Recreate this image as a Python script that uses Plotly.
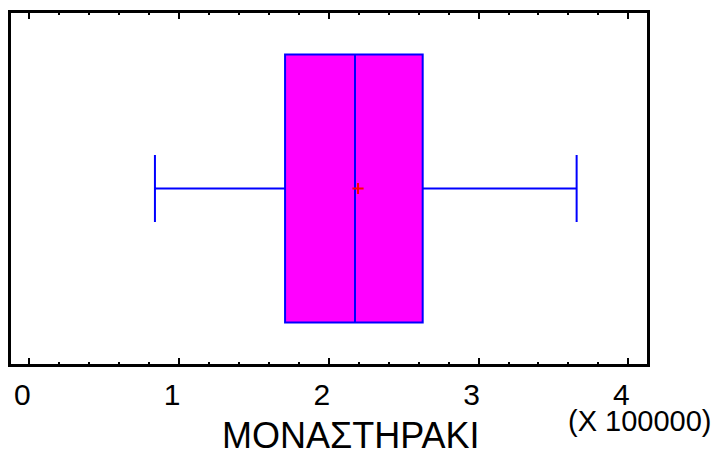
import plotly.graph_objects as go

# Box-and-whisker summary (units of 100000)
category = ["ΜΟΝΑΣΤΗΡΑΚΙ"]
lower_whisker = [0.839]
q1_values = [1.708]
median_values = [2.175]
q3_values = [2.627]
upper_whisker = [3.655]
mean_values = [2.195]
tick_values = [0, 1, 2, 3, 4]
tick_labels = ["0", "1", "2", "3", "4"]

FONT = "Liberation Sans, Arial, sans-serif"

fig = go.Figure()
fig.add_trace(go.Box(
    y=[0], orientation="h",
    q1=q1_values, median=median_values, q3=q3_values,
    lowerfence=lower_whisker, upperfence=upper_whisker,
    fillcolor="#FF00FF",
    line=dict(color="#0000FF", width=2),
    width=0.763, whiskerwidth=0.25,
    boxpoints=False, showlegend=False, name=category[0],
    hoverinfo="skip",
))
fig.add_trace(go.Scatter(
    x=mean_values, y=[0], mode="markers",
    marker=dict(symbol="cross-thin", size=8, line=dict(color="#FF0000", width=2)),
    showlegend=False, hoverinfo="skip",
))

fig.update_layout(
    width=721, height=455,
    margin=dict(l=11, r=74, t=13, b=91),
    paper_bgcolor="white", plot_bgcolor="white",
    font=dict(family=FONT, color="black"),
    xaxis=dict(
        range=[-0.1222, 4.1249],
        tickvals=tick_values, ticktext=tick_labels,
        ticks="inside", ticklen=6, tickwidth=2, tickcolor="black",
        minor=dict(dtick=0.2, ticks="inside", ticklen=2, tickwidth=2, tickcolor="black"),
        showline=True, linecolor="black", linewidth=2.5, mirror="ticks",
        showgrid=False, zeroline=False,
        tickfont=dict(size=30, family=FONT, color="black"),
        ticklabelshift=-7, ticklabelstandoff=2,
    ),
    yaxis=dict(
        range=[-0.5, 0.5], showticklabels=False, ticks="",
        showline=True, linecolor="black", linewidth=2.5, mirror=True,
        showgrid=False, zeroline=False,
    ),
    annotations=[
        dict(text=category[0], xref="paper", yref="paper", x=0.5346, y=-0.205,
             xanchor="center", yanchor="middle", showarrow=False,
             font=dict(size=36, family=FONT, color="black")),
        dict(text="(X 100000)", xref="paper", yref="paper", x=0.989, y=-0.162,
             xanchor="center", yanchor="middle", showarrow=False,
             font=dict(size=29, family=FONT, color="black")),
    ],
)

fig.write_html("out.html")
